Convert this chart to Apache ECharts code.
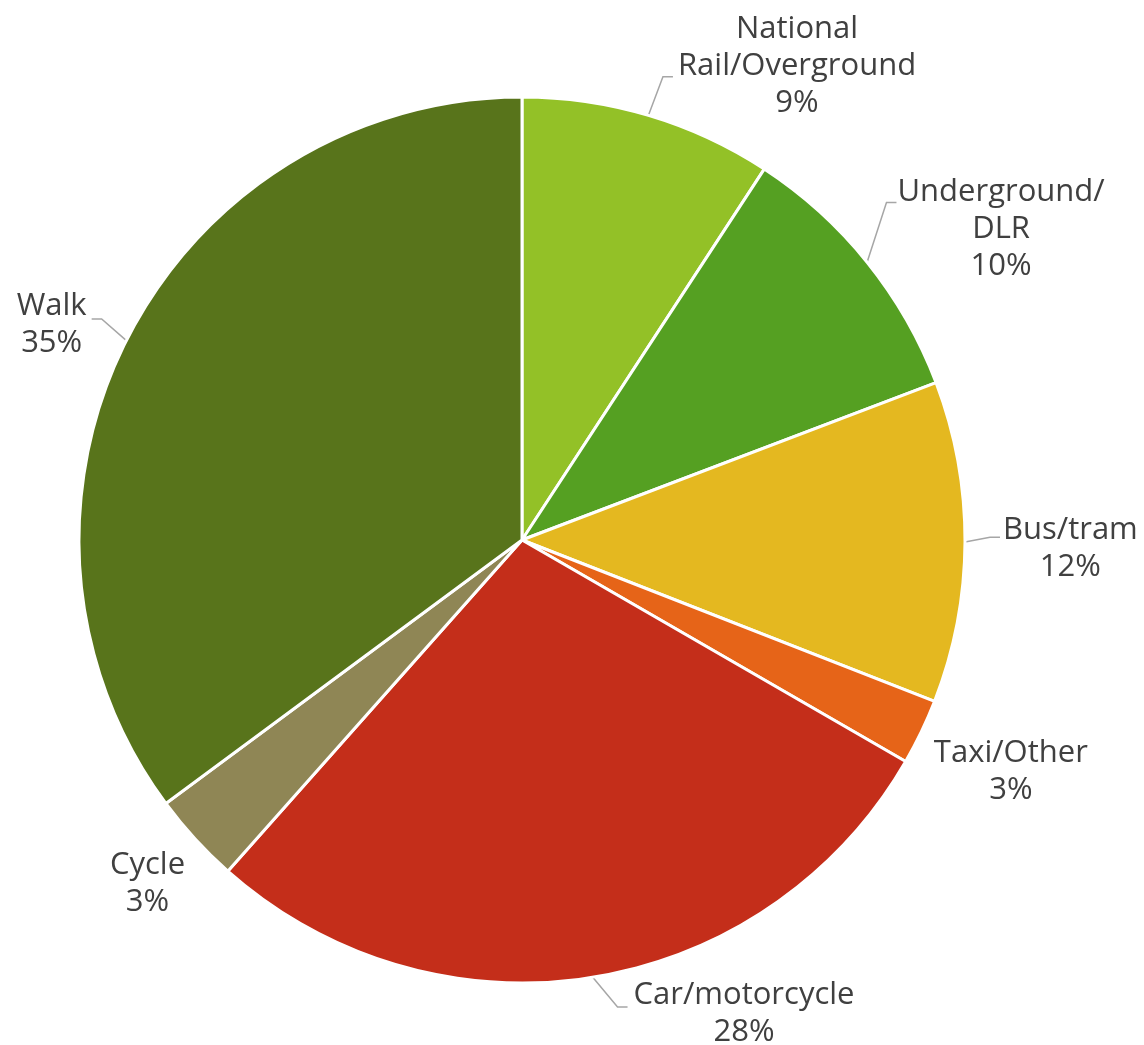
<!DOCTYPE html>
<html>
<head>
<meta charset="utf-8">
<script src="https://cdn.jsdelivr.net/npm/echarts@6/dist/echarts.min.js"></script>
<style>
html,body{margin:0;padding:0;background:#fff;}
#chart{width:1144px;height:1045px;}
</style>
</head>
<body>
<div id="chart"></div>
<script>
const categories = ['National\nRail/Overground', 'Underground/\nDLR', 'Bus/tram', 'Taxi/Other', 'Car/motorcycle', 'Cycle', 'Walk'];
const shares = [9.2, 10.0, 11.7, 2.4, 28.2, 3.3, 35.1];
const shareLabels = ['9%', '10%', '12%', '3%', '28%', '3%', '35%'];
const colors = ['#93C127', '#55A022', '#E4B820', '#E66418', '#C42E1A', '#8F8655', '#58741B'];

// label nudges (style only): text offset and leader-line elbow offset
const labelNudge = [[6, -20], [-8, -14], [-7, 6], [2, 38], [21, 7], [0, 42], [2, -2]];
const lineNudge = [[6, -10], [-4, -41], [-5, -5], [0, 0], [20, 0], [0, 0], [2, -8]];

const chart = echarts.init(document.getElementById('chart'));
const noLine = { 'Taxi/Other': true, 'Cycle': true };
const data = categories.map((c, i) => ({
  name: c,
  value: shares[i],
  itemStyle: { color: colors[i] },
  labelLine: noLine[c] ? { show: false, length: 4, length2: 2 } : undefined
}));

chart.setOption({
  animation: false,
  backgroundColor: '#ffffff',
  series: [{
    type: 'pie',
    center: ['522px', '540px'],
    radius: 443,
    startAngle: 90,
    clockwise: true,
    avoidLabelOverlap: false,
    data: data,
    itemStyle: { borderColor: '#ffffff', borderWidth: 3 },
    label: {
      show: true,
      color: '#404040',
      fontFamily: 'Open Sans',
      fontSize: 31,
      lineHeight: 37,
      formatter: (p) => {
        const lines = (p.name + '\n' + shareLabels[p.dataIndex]).split('\n');
        return lines.map(l => '{c|' + l + '}').join('\n');
      },
      rich: {
        c: { align: 'center', color: '#404040', fontFamily: 'Open Sans', fontSize: 31, lineHeight: 37 }
      }
    },
    labelLine: {
      show: true,
      length: 30,
      length2: 10,
      lineStyle: { color: '#A6A6A6', width: 1.5 }
    },
    labelLayout: (p) => {
      const i = p.dataIndex;
      const out = { dx: labelNudge[i][0], dy: labelNudge[i][1] };
      const pts = p.labelLinePoints;
      if (pts && pts.length === 3) {
        const [lx, ly] = lineNudge[i];
        out.labelLinePoints = [
          [pts[0][0], pts[0][1]],
          [pts[1][0] + lx, pts[1][1] + ly],
          [pts[2][0] + lx, pts[2][1] + ly]
        ];
      }
      return out;
    }
  }]
});
</script>
</body>
</html>
